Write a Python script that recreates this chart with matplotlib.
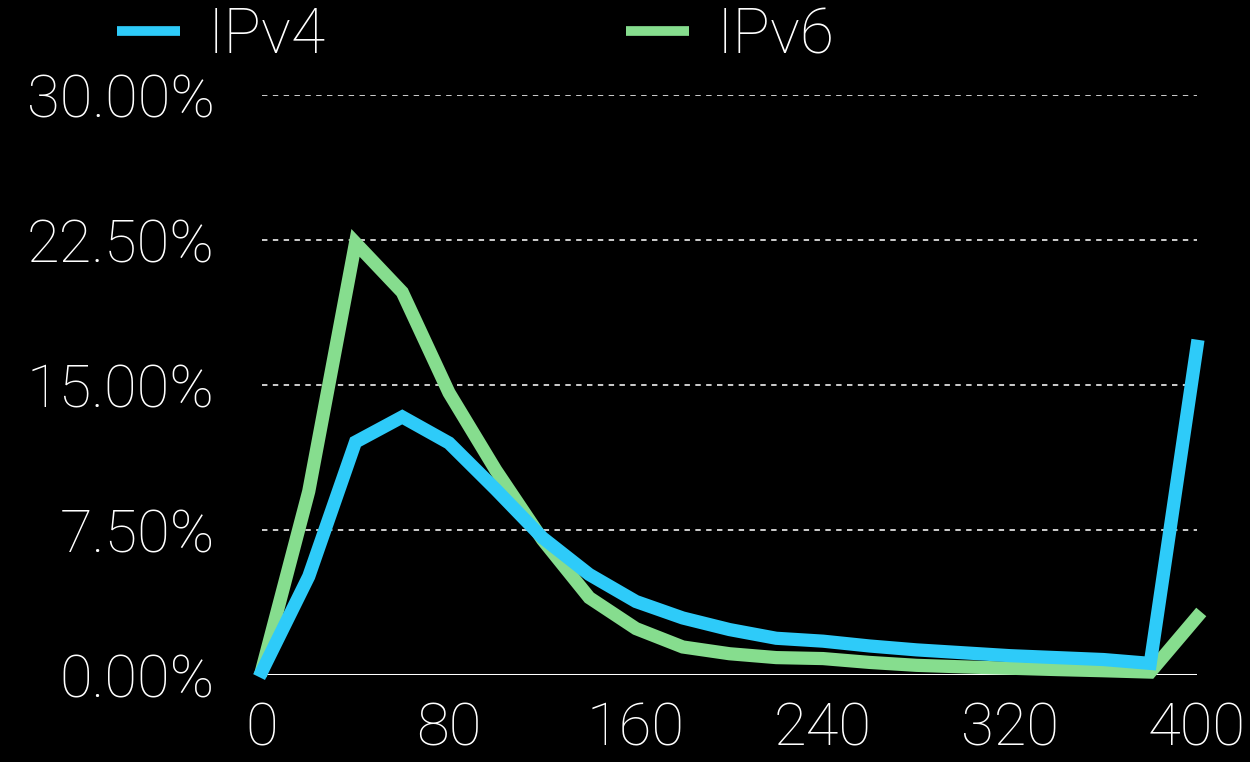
#Packet size distribution, IPv4 vs IPv6
import matplotlib
matplotlib.use("Agg")
import matplotlib.pyplot as plt
from matplotlib.ticker import FuncFormatter

sizes = [0, 20, 40, 60, 80, 100, 120, 140, 160, 180, 200,
         220, 240, 260, 280, 300, 320, 340, 360, 380, 400]
ipv4 = [0.2, 5.1, 12.05, 13.35, 12.0, 9.6, 7.1, 5.2, 3.8, 2.95, 2.35,
        1.9, 1.75, 1.5, 1.3, 1.15, 1.0, 0.9, 0.8, 0.6, 17.0]
ipv6 = [0.3, 9.5, 22.35, 19.8, 14.6, 10.6, 7.0, 4.0, 2.4, 1.45, 1.1,
        0.9, 0.85, 0.65, 0.5, 0.42, 0.35, 0.28, 0.22, 0.15, 3.0]
yticks = [0, 7.5, 15, 22.5, 30]
xticks = [0, 80, 160, 240, 320, 400]

blue = "#2ecbf9"
green = "#86dd8e"

plt.rcParams['font.family'] = ['Roboto', 'DejaVu Sans']
plt.rcParams['font.weight'] = 'light'

fig = plt.figure(figsize=(12.5, 7.62), dpi=100, facecolor="black")
ax = fig.add_axes([262/1250, 1 - 675/762, (1197-262)/1250, (675-95)/762])
ax.set_facecolor("black")

#grid lines
for t in yticks[1:]:
	ax.axhline(t, color="#dddddd", lw=1.3, ls=(0, (3, 3)), zorder=1)
ax.axhline(0, color="white", lw=2.2, zorder=1)

ax.plot(sizes, ipv6, color=green, lw=9.5, solid_joinstyle="miter", label="IPv6", zorder=3, clip_on=False)
ax.plot(sizes, ipv4, color=blue, lw=9.5, solid_joinstyle="miter", label="IPv4", zorder=4, clip_on=False)

ax.set_xlim(0, 400)
ax.set_ylim(0, 30)
ax.set_xticks(xticks)
ax.set_yticks(yticks)
ax.yaxis.set_major_formatter(FuncFormatter(lambda v, p: "%.2f%%" % v))
ax.tick_params(length=0, colors="white", labelsize=43)
ax.tick_params(axis="y", pad=34)
ax.tick_params(axis="x", pad=19)
for s in ax.spines.values():
	s.set_visible(False)

h, l = ax.get_legend_handles_labels()
leg = fig.legend(h[::-1], l[::-1], loc="center left", bbox_to_anchor=(86/1250, 1 - 36/762),
	ncol=2, frameon=False, fontsize=45, labelcolor="white", borderpad=0,
	handlelength=1.0, handletextpad=0.45, columnspacing=4.8)
for line in leg.get_lines():
	line.set_linewidth(7)
	line.set_solid_capstyle("butt")

fig.savefig("out.png", facecolor="black")
